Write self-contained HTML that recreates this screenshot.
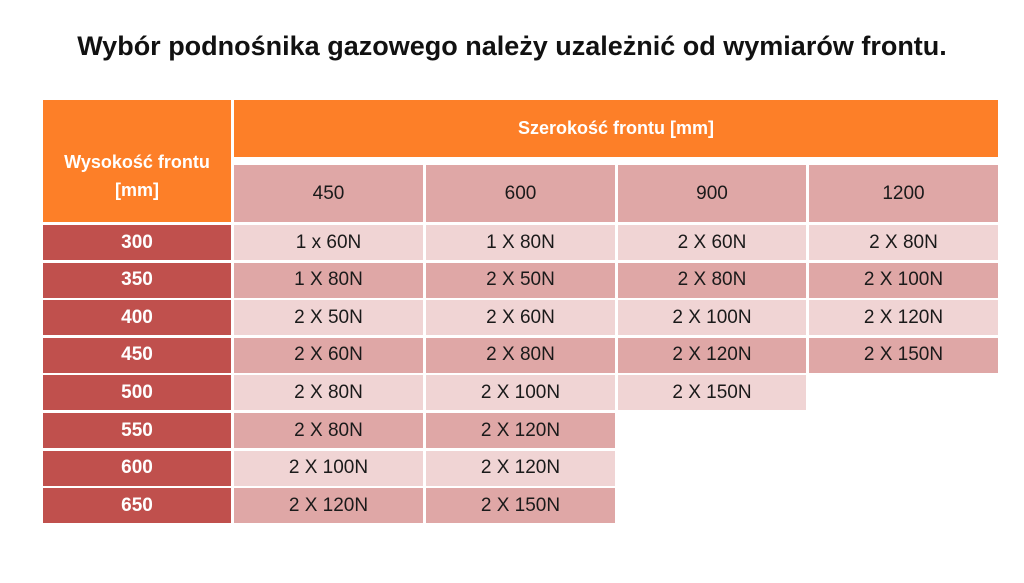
<!DOCTYPE html>
<html><head><meta charset="utf-8"><style>
body{margin:0;width:1024px;height:583px;background:#fff;position:relative;overflow:hidden;font-family:"Liberation Sans",sans-serif}
.c{position:absolute;display:flex;align-items:center;justify-content:center;font-size:19px;color:#1a1a1a;text-align:center;box-sizing:border-box}
.o{background:#fd7f28;color:#fff;font-weight:bold}
.r{background:#c0504d;color:#fff;font-weight:bold}
.d{background:#dfa7a6}
.l{background:#f0d4d4}
h1{position:absolute;left:0;width:1024px;top:31px;margin:0;text-align:center;font-size:27px;font-weight:bold;color:#111}
</style></head><body>
<h1>Wybór podnośnika gazowego należy uzależnić od wymiarów frontu.</h1>
<div class="c o" style="left:43px;top:100px;width:188px;height:122px;line-height:28px;font-size:18px;padding-top:30px">Wysokość frontu<br>[mm]</div>
<div class="c o" style="left:234px;top:100px;width:764px;height:57px;font-size:18px">Szerokość frontu [mm]</div>
<div id="g"></div>
<script>
var cols=[[234,189],[426,189],[618,188],[809,189]];
var rows=["300","350","400","450","500","550","600","650"];
var data=[["1 x 60N","1 X 80N","2 X 60N","2 X 80N"],["1 X 80N","2 X 50N","2 X 80N","2 X 100N"],["2 X 50N","2 X 60N","2 X 100N","2 X 120N"],["2 X 60N","2 X 80N","2 X 120N","2 X 150N"],["2 X 80N","2 X 100N","2 X 150N"],["2 X 80N","2 X 120N"],["2 X 100N","2 X 120N"],["2 X 120N","2 X 150N"]];
var h="";
["450","600","900","1200"].forEach(function(t,i){h+='<div class="c d" style="left:'+cols[i][0]+'px;top:165px;width:'+cols[i][1]+'px;height:57px">'+t+'</div>';});
rows.forEach(function(r,j){var y=225+j*37.6;var cl=j%2?"d":"l";
h+='<div class="c r" style="left:43px;top:'+y+'px;width:188px;height:35px">'+r+'</div>';
data[j].forEach(function(t,i){h+='<div class="c '+cl+'" style="left:'+cols[i][0]+'px;top:'+y+'px;width:'+cols[i][1]+'px;height:35px">'+t+'</div>';});});
document.getElementById("g").innerHTML=h;
</script>
</body></html>
